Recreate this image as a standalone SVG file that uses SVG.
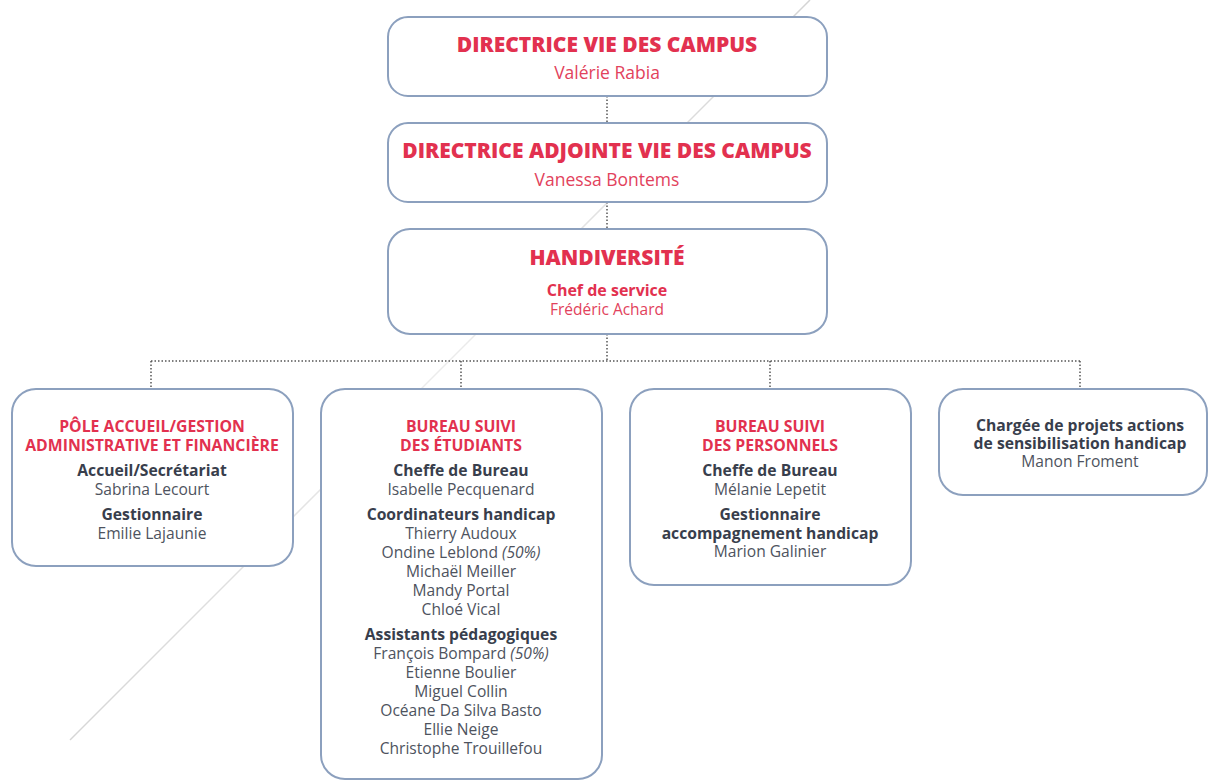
<svg xmlns="http://www.w3.org/2000/svg" width="1208" height="780" viewBox="0 0 1208 780">
<defs>
<linearGradient id="diag" x1="810" y1="0" x2="70" y2="740" gradientUnits="userSpaceOnUse">
<stop offset="0" stop-color="#d4d4d4"/>
<stop offset="0.5" stop-color="#ececec"/>
<stop offset="1" stop-color="#d6d6d6"/>
</linearGradient>
<style>
.box{fill:#fff;stroke:#8ca0be;stroke-width:2}
.t{font-family:"Open Sans","Liberation Sans",sans-serif;text-anchor:middle}
.h1{font-size:21px;font-weight:800;fill:#e2314f}
.n1{font-size:17.5px;fill:#e2425c}
.rh{font-size:15.8px;font-weight:bold;fill:#e2314f}
.bh{font-size:15.7px;font-weight:bold;fill:#383e4c}
.nm{font-size:15.6px;fill:#4e535e}
.it{font-style:italic}
.c{fill:none;stroke:#555;stroke-width:1.5;stroke-dasharray:1.5 2}
</style>
</defs>
<rect width="1208" height="780" fill="#fff"/>
<line x1="810" y1="0" x2="70" y2="740" stroke="url(#diag)" stroke-width="1.5"/>
<g id="connectors">
<path class="c" d="M607 96V123M607 202V229M607 334V361M151 361H1080M151 361V389M461 361V389M770 361V389M1080 361V389"/>
</g>
<g id="n1">
<rect class="box" x="388" y="17" width="439" height="79" rx="20"/>
<text class="t h1" x="607" y="52">DIRECTRICE VIE DES CAMPUS</text>
<text class="t n1" x="607" y="79">Valérie Rabia</text>
</g>
<g id="n2">
<rect class="box" x="388" y="123" width="439" height="79" rx="20"/>
<text class="t h1" x="607" y="158">DIRECTRICE ADJOINTE VIE DES CAMPUS</text>
<text class="t n1" x="607" y="186">Vanessa Bontems</text>
</g>
<g id="n3">
<rect class="box" x="388" y="229" width="439" height="105" rx="22"/>
<text class="t h1" x="607" y="265">HANDIVERSITÉ</text>
<text class="t rh" x="607" y="296" style="font-size:16px">Chef de service</text>
<text class="t n1" x="607" y="315" style="font-size:15.5px">Frédéric Achard</text>
</g>
<g id="n4">
<rect class="box" x="12" y="389" width="281" height="177" rx="24"/>
<text class="t rh" x="152" y="432">PÔLE ACCUEIL/GESTION</text>
<text class="t rh" x="152" y="451">ADMINISTRATIVE ET FINANCIÈRE</text>
<text class="t bh" x="152" y="476">Accueil/Secrétariat</text>
<text class="t nm" x="152" y="495">Sabrina Lecourt</text>
<text class="t bh" x="152" y="520">Gestionnaire</text>
<text class="t nm" x="152" y="539">Emilie Lajaunie</text>
</g>
<g id="n5">
<rect class="box" x="321" y="389" width="281" height="390" rx="24"/>
<text class="t rh" x="461" y="432">BUREAU SUIVI</text>
<text class="t rh" x="461" y="451">DES ÉTUDIANTS</text>
<text class="t bh" x="461" y="476">Cheffe de Bureau</text>
<text class="t nm" x="461" y="495">Isabelle Pecquenard</text>
<text class="t bh" x="461" y="520">Coordinateurs handicap</text>
<text class="t nm" x="461" y="539">Thierry Audoux</text>
<text class="t nm" x="461" y="558">Ondine Leblond <tspan class="it">(50%)</tspan></text>
<text class="t nm" x="461" y="577">Michaël Meiller</text>
<text class="t nm" x="461" y="596">Mandy Portal</text>
<text class="t nm" x="461" y="615">Chloé Vical</text>
<text class="t bh" x="461" y="640">Assistants pédagogiques</text>
<text class="t nm" x="461" y="659">François Bompard <tspan class="it">(50%)</tspan></text>
<text class="t nm" x="461" y="678">Etienne Boulier</text>
<text class="t nm" x="461" y="697">Miguel Collin</text>
<text class="t nm" x="461" y="716">Océane Da Silva Basto</text>
<text class="t nm" x="461" y="735">Ellie Neige</text>
<text class="t nm" x="461" y="754">Christophe Trouillefou</text>
</g>
<g id="n6">
<rect class="box" x="630" y="389" width="281" height="196" rx="24"/>
<text class="t rh" x="770" y="432">BUREAU SUIVI</text>
<text class="t rh" x="770" y="451">DES PERSONNELS</text>
<text class="t bh" x="770" y="476">Cheffe de Bureau</text>
<text class="t nm" x="770" y="495">Mélanie Lepetit</text>
<text class="t bh" x="770" y="520">Gestionnaire</text>
<text class="t bh" x="770" y="539">accompagnement handicap</text>
<text class="t nm" x="770" y="557">Marion Galinier</text>
</g>
<g id="n7">
<rect class="box" x="939" y="389" width="268" height="106" rx="24"/>
<text class="t bh" x="1080" y="431">Chargée de projets actions</text>
<text class="t bh" x="1080" y="449">de sensibilisation handicap</text>
<text class="t nm" x="1080" y="467">Manon Froment</text>
</g>
</svg>
